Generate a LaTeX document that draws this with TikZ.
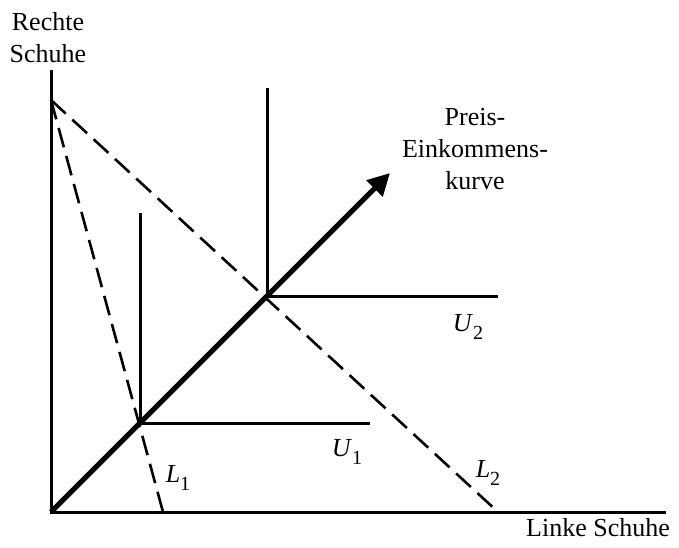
\documentclass[tikz,border=0pt]{standalone}
\usepackage{fontspec}
\setmainfont{Liberation Serif}
\usetikzlibrary{arrows.meta}
\newcommand{\ulab}[2]{\textit{#1}\raisebox{-0.6ex}{\fontsize{10}{10}\selectfont #2}}
\tikzset{
  achse/.style={line width=1.5pt},
  budget/.style={line width=1.3pt,dash pattern=on 10pt off 4.5pt},
  nutzen/.style={line width=1.5pt},
  pfad/.style={line width=2.6pt,-{Triangle[length=11pt,width=11pt]}},
  txt/.style={font=\fontsize{13}{16}\selectfont,inner sep=0pt,align=center}
}
\begin{document}
\begin{tikzpicture}[x=0.5pt,y=0.5pt]
  \useasboundingbox (-51,-35) rectangle (628,512);
  % axes
  \coordinate (O) at (0,0);
  \coordinate (ytop) at (0,442);
  \coordinate (xend) at (615,0);
  \draw[achse] (ytop) -- (O) -- (xend);
  % budget lines
  \coordinate (B) at (0,412);
  \coordinate (L1end) at (112,0);
  \coordinate (L2end) at (447,0);
  \draw[budget] (B) -- (L1end);
  \draw[budget] (B) -- (L2end);
  % indifference curves
  \coordinate (U1c) at (89,89);
  \coordinate (U1top) at (89,299);
  \coordinate (U1end) at (319,89);
  \draw[nutzen] (U1top) -- (U1c) -- (U1end);
  \coordinate (U2c) at (216,216);
  \coordinate (U2top) at (216,424);
  \coordinate (U2end) at (447,216);
  \draw[nutzen] (U2top) -- (U2c) -- (U2end);
  % price-income curve
  \coordinate (tip) at (339,339);
  \draw[pfad] (O) -- (tip);
  % labels
  \node[txt] (ylab) at (-3,474) {Rechte\\Schuhe};
  \node[txt] (xlab) at (547,-16) {Linke Schuhe};
  \node[txt] (pek) at (424,363) {Preis-\\Einkommens-\\kurve};
  \node[txt] (u2) at (417,185) {\ulab{U}{2}};
  \node[txt] (u1) at (296,60) {\ulab{U}{1}};
  \node[txt] (l1) at (127,34) {\ulab{L}{1}};
  \node[txt] (l2) at (437,39) {\ulab{L}{2}};
\end{tikzpicture}
\end{document}
